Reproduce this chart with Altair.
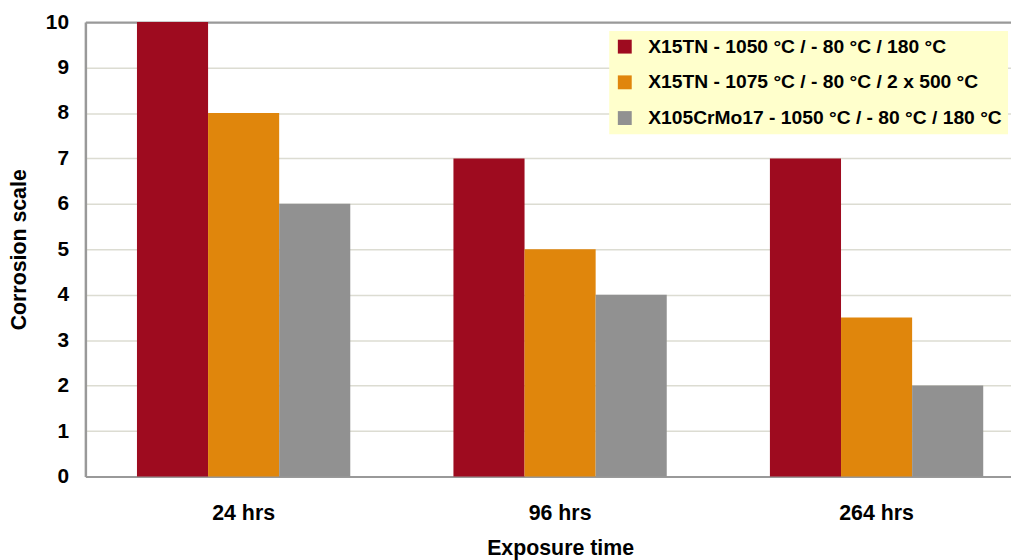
import altair as alt
import pandas as pd

categories = ["24 hrs", "96 hrs", "264 hrs"]
series = [
    "X15TN - 1050 °C / - 80 °C / 180 °C",
    "X15TN - 1075 °C / - 80 °C / 2 x 500 °C",
    "X105CrMo17 - 1050 °C / - 80 °C / 180 °C",
]
values_s1 = [10, 7, 7]
values_s2 = [8, 5, 3.5]
values_s3 = [6, 4, 2]
colors = ["#9E0B1F", "#E0860C", "#919191"]

rows = []
for s, vals in zip(series, [values_s1, values_s2, values_s3]):
    for c, v in zip(categories, vals):
        rows.append({"time": c, "series": s, "value": v})
df = pd.DataFrame(rows)

FONT = "Liberation Sans"

chart = alt.Chart(df).mark_bar().encode(
    x=alt.X(
        "time:N",
        sort=categories,
        scale=alt.Scale(range=[0, 957], paddingInner=0.326, paddingOuter=0.163),
        axis=alt.Axis(
            title="Exposure time",
            labelAngle=0,
            labelFontSize=21.5,
            labelFontWeight="bold",
            labelFont=FONT,
            labelColor="black",
            labelPadding=26,
            ticks=False,
            domain=True,
            domainColor="#999999",
            domainWidth=2,
            grid=False,
            titleFontSize=21.5,
            titleFont=FONT,
            titleFontWeight="bold",
            titleColor="black",
            titleBaseline="alphabetic",
            titleY=79,
        ),
    ),
    xOffset=alt.XOffset("series:N", sort=series),
    y=alt.Y(
        "value:Q",
        scale=alt.Scale(domain=[0, 10], nice=False),
        axis=alt.Axis(
            title="Corrosion scale",
            values=list(range(0, 11)),
            labelFontSize=21,
            labelFontWeight="bold",
            labelFont=FONT,
            labelColor="black",
            labelPadding=17,
            ticks=False,
            domain=True,
            domainColor="#999999",
            domainWidth=2.5,
            grid=True,
            gridColor=alt.condition("datum.value == 10", alt.value("#999999"), alt.value("#DCDCD2")),
            gridWidth=alt.condition("datum.value == 10", alt.value(2.5), alt.value(1.5)),
            titleFontSize=21.5,
            titleFont=FONT,
            titleFontWeight="bold",
            titleColor="black",
            titleX=-55,
            titleY=229,
        ),
    ),
    color=alt.Color(
        "series:N",
        sort=series,
        scale=alt.Scale(domain=series, range=colors),
        legend=alt.Legend(
            title=None,
            orient="none",
            legendX=528,
            legendY=9,
            padding=6,
            fillColor="#FFFFCC",
            symbolType="square",
            symbolSize=196,
            symbolStrokeWidth=0,
            symbolOpacity=1,
            labelFontSize=19.4,
            labelFontWeight="bold",
            labelFont=FONT,
            labelColor="black",
            labelOffset=14,
            rowPadding=15,
            labelLimit=500,
        ),
    ),
).properties(
    width=933,
    height=458,
    autosize=alt.AutoSizeParams(type="none"),
    padding={"left": 78, "top": 12, "right": 0, "bottom": 90},
).configure_view(
    fill="#FFFFCC",
    stroke=None,
).configure(background="white")

chart.save("out.html", embed_options={"renderer": "svg", "actions": False})
